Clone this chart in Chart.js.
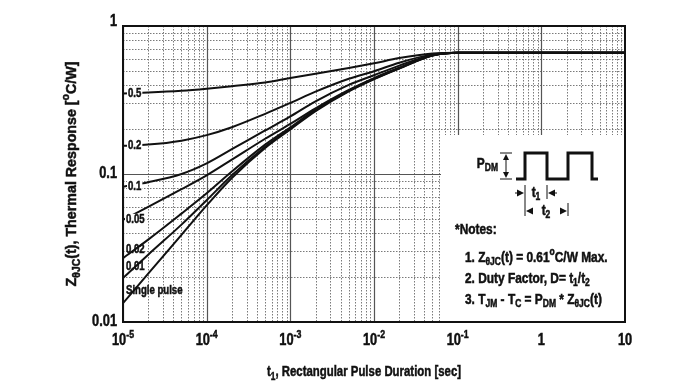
<!DOCTYPE html>
<html>
<head>
<meta charset="utf-8">
<script src="https://cdn.jsdelivr.net/npm/chart.js@4"></script>
<style>
  html, body { margin: 0; padding: 0; background: #fff; }
  canvas { display: block; }
</style>
</head>
<body>
<canvas id="zthChart" width="700" height="386"></canvas>
<script>
// pulse duration t1 [sec]
const durations = [1e-5, 2e-5, 5e-5, 1e-4, 2e-4, 5e-4, 1e-3, 2e-3, 5e-3, 1e-2, 2e-2, 5e-2, 1e-1, 1, 10];

// Z(t) per duty factor [°C/W]
const duty05  = [0.350, 0.355, 0.365, 0.377, 0.392, 0.415, 0.445, 0.475, 0.520, 0.560, 0.607, 0.652, 0.660, 0.660, 0.660];
const duty02  = [0.155, 0.158, 0.168, 0.183, 0.207, 0.255, 0.302, 0.360, 0.440, 0.495, 0.565, 0.643, 0.660, 0.660, 0.660];
const duty01  = [0.082, 0.088, 0.100, 0.118, 0.147, 0.197, 0.245, 0.310, 0.400, 0.465, 0.540, 0.638, 0.660, 0.660, 0.660];
const duty005 = [0.049, 0.060, 0.079, 0.098, 0.125, 0.173, 0.218, 0.278, 0.370, 0.445, 0.522, 0.634, 0.660, 0.660, 0.660];
const duty002 = [0.027, 0.036, 0.054, 0.074, 0.104, 0.158, 0.207, 0.272, 0.366, 0.441, 0.519, 0.633, 0.660, 0.660, 0.660];
const duty001 = [0.0198, 0.0285, 0.0455, 0.0665, 0.098, 0.153, 0.203, 0.269, 0.364, 0.439, 0.518, 0.632, 0.660, 0.660, 0.660];
const single  = [0.0134, 0.0212, 0.0388, 0.0613, 0.094, 0.150, 0.200, 0.266, 0.362, 0.437, 0.516, 0.631, 0.660, 0.660, 0.660];

const curveLabels = ['0.5', '0.2', '0.1', '0.05', '0.02', '0.01', 'Single pulse'];
const curveSeries = [duty05, duty02, duty01, duty005, duty002, duty001, single];

// decade ticks: [base, exponent]
const xTickValues = [1e-5, 1e-4, 1e-3, 1e-2, 1e-1, 1, 10];
const xTickLabels = [['10', '-5'], ['10', '-4'], ['10', '-3'], ['10', '-2'], ['10', '-1'], ['1', ''], ['10', '']];
const yTickValues = [1, 0.1, 0.01];
const yTickLabels = ['1', '0.1', '0.01'];

const FONT = "'Liberation Sans', Arial, sans-serif";
const SX = 0.8; // narrow look of the original lettering

// draw text made of parts: [text, 'n' | 'sub' | 'sup']
function richWidth(ctx, parts, size, sx = SX) {
  let w = 0;
  parts.forEach(([t, k]) => {
    ctx.font = 'bold ' + (k === 'n' ? size : Math.round(size * 0.7)) + 'px ' + FONT;
    w += ctx.measureText(t).width;
  });
  return w * sx;
}
function drawRich(ctx, parts, x, y, size, align, sx = SX) {
  const w = richWidth(ctx, parts, size, sx);
  const x0 = align === 'center' ? x - w / 2 : (align === 'right' ? x - w : x);
  ctx.save();
  ctx.translate(x0, y);
  ctx.scale(sx, 1);
  ctx.textBaseline = 'middle';
  ctx.textAlign = 'left';
  ctx.strokeStyle = ctx.fillStyle;
  ctx.lineWidth = 0.5;
  let cx = 0;
  parts.forEach(([t, k]) => {
    const s = k === 'n' ? size : Math.round(size * 0.7);
    ctx.font = 'bold ' + s + 'px ' + FONT;
    const dy = k === 'sub' ? size * 0.3 : (k === 'sup' ? -size * 0.38 : 0);
    ctx.fillText(t, cx, dy);
    ctx.strokeText(t, cx, dy);
    cx += ctx.measureText(t).width;
  });
  ctx.restore();
}

function arrowHead(ctx, x, y, dir) {
  // dir: 1 points right, -1 points left
  ctx.beginPath();
  ctx.moveTo(x, y);
  ctx.lineTo(x - dir * 7, y - 3.5);
  ctx.lineTo(x - dir * 7, y + 3.5);
  ctx.closePath();
  ctx.fill();
}

const decorPlugin = {
  id: 'decor',
  beforeDatasetsDraw(chart) {
    const { ctx, chartArea: a, scales: { x, y } } = chart;
    ctx.save();
    ctx.beginPath();
    ctx.rect(a.left, a.top, a.right - a.left, a.bottom - a.top);
    ctx.clip();
    // minor grid (dotted)
    ctx.strokeStyle = '#7a7a7a';
    ctx.lineWidth = 1;
    ctx.setLineDash([1.5, 1.5]);
    for (let e = -5; e <= 0; e++) {
      for (let m = 2; m <= 9; m++) {
        const px = Math.round(x.getPixelForValue(m * Math.pow(10, e))) + 0.5;
        ctx.beginPath(); ctx.moveTo(px, a.top); ctx.lineTo(px, a.bottom); ctx.stroke();
      }
    }
    for (let e = -2; e <= -1; e++) {
      for (let m = 2; m <= 9; m++) {
        const py = Math.round(y.getPixelForValue(m * Math.pow(10, e))) + 0.5;
        ctx.beginPath(); ctx.moveTo(a.left, py); ctx.lineTo(a.right, py); ctx.stroke();
      }
    }
    // major grid (solid)
    ctx.setLineDash([]);
    ctx.strokeStyle = '#555';
    ctx.lineWidth = 1.2;
    xTickValues.forEach(v => {
      const px = Math.round(x.getPixelForValue(v)) + 0.5;
      ctx.beginPath(); ctx.moveTo(px, a.top); ctx.lineTo(px, a.bottom); ctx.stroke();
    });
    yTickValues.forEach(v => {
      const py = Math.round(y.getPixelForValue(v)) + 0.5;
      ctx.beginPath(); ctx.moveTo(a.left, py); ctx.lineTo(a.right, py); ctx.stroke();
    });
    ctx.restore();

    // inset notes box
    const bx = a.right - 184, by = a.top + 109;
    ctx.save();
    ctx.fillStyle = '#fff';
    ctx.fillRect(bx, by, a.right - bx, a.bottom - by);
    ctx.fillStyle = '#111';
    ctx.strokeStyle = '#111';
    // pulse train
    ctx.lineWidth = 3;
    const base = by + 44, high = by + 18;
    ctx.beginPath();
    ctx.moveTo(bx + 75, base);
    ctx.lineTo(bx + 84, base); ctx.lineTo(bx + 84, high);
    ctx.lineTo(bx + 106, high); ctx.lineTo(bx + 106, base);
    ctx.lineTo(bx + 127, base); ctx.lineTo(bx + 127, high);
    ctx.lineTo(bx + 151, high); ctx.lineTo(bx + 151, base);
    ctx.lineTo(bx + 157, base);
    ctx.stroke();
    // PDM arrow
    ctx.lineWidth = 1;
    ctx.beginPath();
    ctx.moveTo(bx + 59, high); ctx.lineTo(bx + 71, high);
    ctx.moveTo(bx + 59, base); ctx.lineTo(bx + 71, base);
    ctx.moveTo(bx + 65, high + 3); ctx.lineTo(bx + 65, base - 3);
    ctx.stroke();
    ctx.beginPath(); ctx.moveTo(bx + 65, high + 1); ctx.lineTo(bx + 62, high + 7); ctx.lineTo(bx + 68, high + 7); ctx.fill();
    ctx.beginPath(); ctx.moveTo(bx + 65, base - 1); ctx.lineTo(bx + 62, base - 7); ctx.lineTo(bx + 68, base - 7); ctx.fill();
    drawRich(ctx, [['P', 'n'], ['DM', 'sub']], bx + 57, by + 29, 14, 'right', 0.85);
    // t1, t2 dimension marks
    ctx.lineWidth = 1;
    ctx.beginPath();
    ctx.moveTo(bx + 84, base + 6); ctx.lineTo(bx + 84, base + 37);
    ctx.moveTo(bx + 106, base + 6); ctx.lineTo(bx + 106, base + 20);
    ctx.moveTo(bx + 127, base + 24); ctx.lineTo(bx + 127, base + 37);
    ctx.stroke();
    arrowHead(ctx, bx + 83, base + 14, 1);
    ctx.beginPath(); ctx.moveTo(bx + 74, base + 14); ctx.lineTo(bx + 80, base + 14); ctx.stroke();
    arrowHead(ctx, bx + 107, base + 14, -1);
    ctx.beginPath(); ctx.moveTo(bx + 110, base + 14); ctx.lineTo(bx + 116, base + 14); ctx.stroke();
    drawRich(ctx, [['t', 'n'], ['1', 'sub']], bx + 95, base + 14, 14, 'center', 0.85);
    arrowHead(ctx, bx + 85, base + 32, -1);
    arrowHead(ctx, bx + 126, base + 32, 1);
    drawRich(ctx, [['t', 'n'], ['2', 'sub']], bx + 105, base + 32, 14, 'center', 0.85);
    // notes
    drawRich(ctx, [['*Notes:', 'n']], bx + 14, by + 95, 14, 'left', 0.85);
    drawRich(ctx, [['1. Z', 'n'], ['θJC', 'sub'], ['(t) = 0.61', 'n'], ['o', 'sup'], ['C/W Max.', 'n']], bx + 24, by + 123, 14, 'left', 0.85);
    drawRich(ctx, [['2. Duty Factor, D= t', 'n'], ['1', 'sub'], ['/t', 'n'], ['2', 'sub']], bx + 24, by + 144, 14, 'left', 0.85);
    drawRich(ctx, [['3. T', 'n'], ['JM', 'sub'], [' - T', 'n'], ['C', 'sub'], [' = P', 'n'], ['DM', 'sub'], [' * Z', 'n'], ['θJC', 'sub'], ['(t)', 'n']], bx + 24, by + 165, 14, 'left', 0.85);
    ctx.restore();
  },
  afterDatasetsDraw(chart) {
    const { ctx, chartArea: a, scales: { x, y } } = chart;
    ctx.save();
    ctx.fillStyle = '#111';
    // curve labels sitting on the lines
    const yOffsets = [0, 0, 0, 0, -8, -11, -13];
    curveSeries.forEach((s, i) => {
      const py = y.getPixelForValue(s[0]) + yOffsets[i];
      const lx = a.left + (i < 3 ? 5 : 3);
      const w = richWidth(ctx, [[curveLabels[i], 'n']], 12);
      if (i < 4) {
        ctx.fillStyle = '#fff';
        ctx.fillRect(lx - 1, py - 6, w + 2, 12);
      }
      ctx.fillStyle = '#111';
      drawRich(ctx, [[curveLabels[i], 'n']], lx, py, 12, 'left');
    });
    // frame
    ctx.strokeStyle = '#111';
    ctx.lineWidth = 2;
    ctx.strokeRect(a.left, a.top, a.right - a.left, a.bottom - a.top);
    // x tick labels
    xTickValues.forEach((v, i) => {
      const [b, ex] = xTickLabels[i];
      const parts = ex ? [[b, 'n'], [ex, 'sup']] : [[b, 'n']];
      drawRich(ctx, parts, x.getPixelForValue(v), a.bottom + 19, 16, 'center');
    });
    // y tick labels
    yTickValues.forEach((v, i) => {
      drawRich(ctx, [[yTickLabels[i], 'n']], a.left - 6, y.getPixelForValue(v) - (i === 0 ? 4 : 0), 16, 'right');
    });
    // axis titles
    drawRich(ctx, [['t', 'n'], ['1', 'sub'], [', Rectangular Pulse Duration [sec]', 'n']], (a.left + a.right) / 2 - 10, a.bottom + 50, 15, 'center', 0.76);
    ctx.translate(72, (a.top + a.bottom) / 2);
    ctx.rotate(-Math.PI / 2);
    drawRich(ctx, [['Z', 'n'], ['θJC', 'sub'], ['(t), Thermal Response [', 'n'], ['o', 'sup'], ['C/W]', 'n']], 0, 0, 15, 'center', 0.95);
    ctx.restore();
  }
};

const datasets = curveSeries.map((s, i) => ({
  label: curveLabels[i],
  data: durations.map((t, k) => ({ x: t, y: s[k] })),
  borderColor: '#111',
  borderWidth: 2,
  pointRadius: 0,
  cubicInterpolationMode: 'monotone',
  fill: false
}));

new Chart(document.getElementById('zthChart').getContext('2d'), {
  type: 'line',
  data: { datasets },
  options: {
    responsive: false,
    animation: false,
    devicePixelRatio: 1,
    layout: { padding: { left: 123, right: 75, top: 26, bottom: 64 } },
    scales: {
      x: { type: 'logarithmic', min: 1e-5, max: 10, display: false },
      y: { type: 'logarithmic', min: 0.01, max: 1, display: false }
    },
    plugins: {
      legend: { display: false },
      tooltip: { enabled: false }
    }
  },
  plugins: [decorPlugin]
});
</script>
</body>
</html>
